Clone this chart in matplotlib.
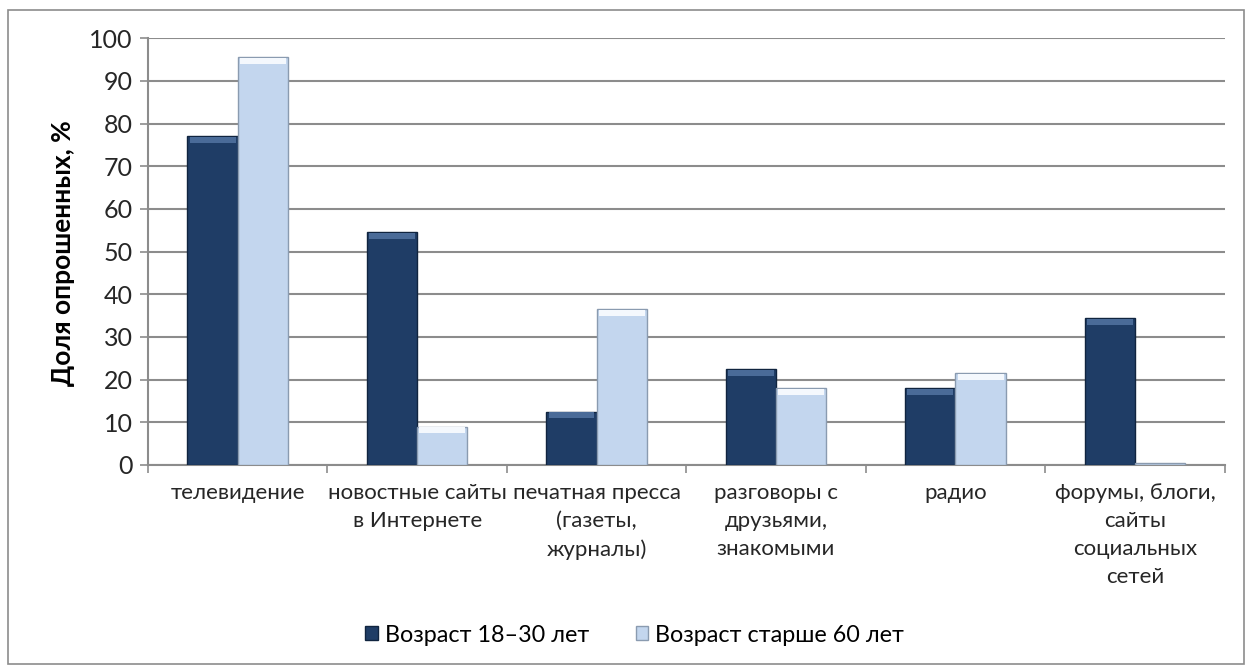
"""Grouped bar chart: news sources by age group."""

import matplotlib.pyplot as plt
import numpy as np
from matplotlib.patches import Rectangle

categories = [
    "телевидение",
    "новостные сайты\nв Интернете",
    "печатная пресса\n(газеты,\nжурналы)",
    "разговоры с\nдрузьями,\nзнакомыми",
    "радио",
    "форумы, блоги,\nсайты\nсоциальных\nсетей",
]
young = [77, 54.5, 12.5, 22.5, 18, 34.5]
old = [95.5, 9, 36.5, 18, 21.5, 0.5]
series_names = ["Возраст 18–30 лет", "Возраст старше 60 лет"]
yticks = list(range(0, 101, 10))

DARK = "#1f3d66"
LIGHT = "#c3d6ee"

plt.rcParams["font.family"] = ["Lato", "DejaVu Sans"]

fig = plt.figure(figsize=(12.49, 6.70), dpi=100)
ax = fig.add_axes([0.1185, 0.306, 0.862, 0.637])

x = np.arange(len(categories))
w = 0.28
b1 = ax.bar(x - w / 2, young, w, color=DARK, edgecolor="#10243f", linewidth=1.0,
            label=series_names[0], zorder=3)
b2 = ax.bar(x + w / 2, old, w, color=LIGHT, edgecolor="#8a9bb0", linewidth=1.0,
            label=series_names[1], zorder=3)

# bevel highlight on top of each bar
for bars, col in ((b1, "#4a6b98"), (b2, "#f4f8fd")):
    for r in bars:
        h = r.get_height()
        if h < 2:
            continue
        ax.add_patch(Rectangle((r.get_x() + 0.012, h - 1.6), r.get_width() - 0.024, 1.4,
                               facecolor=col, edgecolor="none", zorder=4))

ax.set_xlim(-0.5, len(categories) - 0.5)
ax.set_ylim(0, 100)
ax.set_yticks(yticks)
ax.yaxis.grid(True, color="#8c8c8c", linewidth=1.5, zorder=0)
ax.set_axisbelow(True)

ax.set_xticks(x)
ax.set_xticklabels(categories, fontsize=16, color="#262626", linespacing=1.5)
ax.tick_params(axis="x", length=0, pad=13)
ax.set_xticks(np.arange(-0.5, len(categories), 1), minor=True)
ax.tick_params(axis="x", which="minor", length=6, color="#8c8c8c", width=1.2)
ax.tick_params(axis="y", labelsize=18, length=6, color="#8c8c8c", width=1.2,
               labelcolor="#262626", pad=5)

for s in ("top", "right"):
    ax.spines[s].set_visible(False)
for s in ("left", "bottom"):
    ax.spines[s].set_color("#8c8c8c")
    ax.spines[s].set_linewidth(1.5)

ax.set_ylabel("Доля опрошенных, %", fontsize=19, fontweight="bold")
ax.yaxis.set_label_coords(-0.068, 0.497)

fig.legend(handles=[b1, b2], loc="center", bbox_to_anchor=(0.508, 0.052), ncol=2,
           frameon=False, fontsize=16.8, handlelength=0.55, handleheight=0.55,
           handletextpad=0.3, columnspacing=2.0)

fig.add_artist(Rectangle((8 / 1249, 6 / 670), 1236 / 1249, 654 / 670,
                         transform=fig.transFigure, fill=False,
                         edgecolor="#8c8c8c", linewidth=1.2))

fig.savefig("out.png", dpi=100)
plt.close(fig)
